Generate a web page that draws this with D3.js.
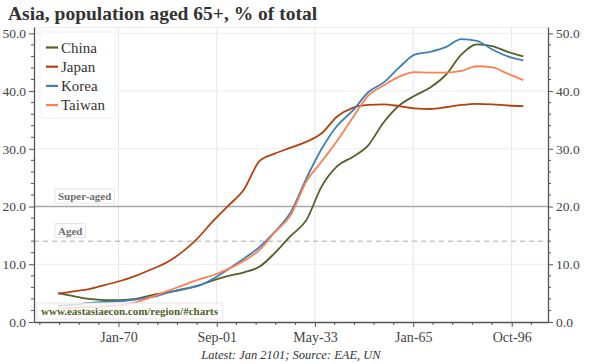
<!DOCTYPE html>
<html><head><meta charset="utf-8">
<script src="https://cdn.jsdelivr.net/npm/d3@7"></script>
<style>body{margin:0;background:#fff}svg{display:block}</style>
</head><body><svg id="c" width="600" height="364"></svg>
<script>
const years = [1950,1955,1960,1965,1970,1975,1980,1985,1990,1995,2000,2005,2010,2015,2020,2025,2030,2035,2040,2045,2050,2055,2060,2065,2070,2075,2080,2085,2090,2095,2100];
const china  = [5.0,4.5,4.0,3.8,3.8,4.0,4.6,5.1,5.6,6.3,7.2,8.0,8.6,9.6,12.0,14.9,17.6,23.5,27.0,28.6,30.6,34.6,37.5,39.2,40.6,42.8,46.3,48.1,47.8,46.8,46.0];
const japan  = [4.9,5.3,5.7,6.4,7.1,8.0,9.1,10.3,12.1,14.5,17.5,20.2,23.0,27.9,29.2,30.2,31.2,32.7,35.6,37.1,37.6,37.7,37.4,37.0,36.9,37.2,37.6,37.8,37.7,37.5,37.4];
const korea  = [2.8,3.0,3.3,3.5,3.6,3.9,4.3,5.0,5.7,6.2,7.5,9.2,11.0,13.0,15.7,19.0,24.8,30.0,34.0,36.6,39.8,41.5,44.1,46.3,46.8,47.6,49.0,48.7,47.2,46.0,45.3];
const taiwan = [2.3,2.5,2.6,2.7,2.9,3.4,4.3,5.3,6.3,7.3,8.1,9.2,10.6,12.5,15.6,18.5,24.3,27.8,31.4,35.4,39.2,41.0,42.5,43.3,43.2,43.2,43.5,44.3,44.1,43.0,41.9];
const seriesNames = ["China","Japan","Korea","Taiwan"];
const seriesValues = [china, japan, korea, taiwan];
const seriesColors = ["#4F6228","#B5400F","#3F7FB9","#FF7F4F"];
const xTickLabels = ["Jan-70","Sep-01","May-33","Jan-65","Oct-96"];
const xTickDates = ["1970-01-01","2001-09-01","2033-05-01","2065-01-01","2096-10-01"];
const yTickValues = [0,10,20,30,40,50];
const thresholdLabels = ["Super-aged","Aged"];
const thresholdValues = [20,14];
const title = "Asia, population aged 65+, % of total";
const footer = "Latest: Jan 2101; Source: EAE, UN";
const watermark = "www.eastasiaecon.com/region/#charts";

const svg = d3.select("#c");
const L = 34, R = 548, T = 27, B = 322;
const serif = "'Liberation Serif', 'Times New Roman', serif";
const x = d3.scaleTime().domain([new Date(1942, 9, 5), new Date(2108, 5, 15)]).range([L, R]);
const y = d3.scaleLinear().domain([0, 51.1]).range([B, T]);
const parse = d3.timeParse("%Y-%m-%d");
const majorDates = xTickDates.map(parse);
const dataDates = years.map(yr => new Date(yr, 6, 1));

// gridlines
const g = svg.append("g");
g.selectAll(".hg").data(yTickValues.filter(v => v > 0 && v !== 20)).join("line")
  .attr("x1", L).attr("x2", R).attr("y1", d => y(d)).attr("y2", d => y(d))
  .attr("stroke", "#ececec").attr("stroke-width", 1);
g.append("line").attr("x1", L).attr("x2", R).attr("y1", T + 0.5).attr("y2", T + 0.5)
  .attr("stroke", "#ececec");
g.selectAll(".vg").data(majorDates).join("line")
  .attr("x1", d => x(d)).attr("x2", d => x(d)).attr("y1", T).attr("y2", B)
  .attr("stroke", "#e6e6e6").attr("stroke-width", 1);

// thresholds
g.append("line").attr("x1", L).attr("x2", R).attr("y1", y(thresholdValues[0])).attr("y2", y(thresholdValues[0]))
  .attr("stroke", "#a8a8a8").attr("stroke-width", 1.5);
g.append("line").attr("x1", L).attr("x2", R).attr("y1", y(thresholdValues[1])).attr("y2", y(thresholdValues[1]))
  .attr("stroke", "#aaaaaa").attr("stroke-width", 1).attr("stroke-dasharray", "5,4");
thresholdLabels.forEach((lab, i) => {
  const t = g.append("text").text(lab).attr("x", 58).attr("y", y(thresholdValues[i]) - 6.5)
    .attr("font-family", serif).attr("font-size", 11).attr("font-weight", "bold").attr("fill", "#6e6e6e");
  const bb = t.node().getBBox();
  g.insert("rect", "text").attr("x", bb.x - 3).attr("y", bb.y - 1).attr("width", bb.width + 6).attr("height", bb.height + 2)
    .attr("fill", "#fff").attr("stroke", "#e4e4e4");
});

// lines
const line = d3.line().x((d, i) => x(dataDates[i])).y(d => y(d)).curve(d3.curveMonotoneX);
seriesValues.forEach((vals, i) => {
  svg.append("path").datum(vals).attr("d", line).attr("fill", "none")
    .attr("stroke", seriesColors[i]).attr("stroke-width", 1.8).attr("stroke-linejoin", "round");
});

// axes
const axisColor = "#555";
const yFmt = d3.format(".1f");
const styleAxis = sel => {
  sel.select(".domain").attr("stroke", axisColor).attr("stroke-width", 1.3);
  sel.selectAll(".tick line").attr("stroke", axisColor);
  sel.selectAll(".tick text").attr("font-family", serif).attr("font-size", 13.5).attr("fill", "#444");
};
const minorY = d3.range(0, 51, 2).filter(v => v % 10 !== 0);
const yl = svg.append("g").attr("transform", `translate(${L},0)`)
  .call(d3.axisLeft(y).tickValues(yTickValues).tickFormat(yFmt).tickSize(5).tickSizeOuter(0).tickPadding(3));
styleAxis(yl);
yl.selectAll(".mt").data(minorY).join("line").attr("x1", 0).attr("x2", -3).attr("y1", d => y(d)).attr("y2", d => y(d)).attr("stroke", axisColor);
const yr = svg.append("g").attr("transform", `translate(${R},0)`)
  .call(d3.axisRight(y).tickValues(yTickValues).tickFormat(yFmt).tickSize(5).tickSizeOuter(0).tickPadding(3));
styleAxis(yr);
yr.selectAll(".mt").data(minorY).join("line").attr("x1", 0).attr("x2", 3).attr("y1", d => y(d)).attr("y2", d => y(d)).attr("stroke", axisColor);

const xa = svg.append("g").attr("transform", `translate(0,${B})`)
  .call(d3.axisBottom(x).tickValues(majorDates).tickFormat((d, i) => xTickLabels[i]).tickSize(5).tickSizeOuter(0).tickPadding(5));
styleAxis(xa);
xa.selectAll(".tick text").attr("font-size", 14);
// minor x ticks: five divisions between majors
const mp = majorDates.map(d => x(d));
const step = (mp[mp.length - 1] - mp[0]) / ((mp.length - 1) * 5);
const minorX = [];
for (let p = mp[0] - step; p > L + 2; p -= step) minorX.push(p);
for (let p = mp[0] + step; p < R - 2; p += step) if (!mp.some(m => Math.abs(m - p) < 1)) minorX.push(p);
xa.selectAll(".mt").data(minorX).join("line").attr("x1", d => d).attr("x2", d => d).attr("y1", 0).attr("y2", 3).attr("stroke", axisColor);

// legend
const lg = svg.append("g");
lg.append("rect").attr("x", 40).attr("y", 32).attr("width", 75).attr("height", 86).attr("fill", "#fff").attr("stroke", "#f0f0f0");
seriesNames.forEach((n, i) => {
  const yy = 47.5 + i * 19.2;
  lg.append("line").attr("x1", 46).attr("x2", 58).attr("y1", yy).attr("y2", yy).attr("stroke", seriesColors[i]).attr("stroke-width", 2.2);
  lg.append("text").text(n).attr("x", 61).attr("y", yy + 5).attr("font-family", serif).attr("font-size", 15).attr("fill", "#333");
});

// watermark
const wm = svg.append("g");
const wt = wm.append("text").text(watermark).attr("x", 41).attr("y", 314.5)
  .attr("font-family", serif).attr("font-size", 11).attr("font-weight", "bold").attr("fill", "#4F6228");
const wb = wt.node().getBBox();
wm.insert("rect", "text").attr("x", 37).attr("y", 303).attr("width", wb.width + 8).attr("height", 16)
  .attr("fill", "#fff").attr("fill-opacity", 0.75).attr("stroke", "#e6e6e6");

// title, footer
svg.append("text").text(title).attr("x", 8).attr("y", 20).attr("font-family", serif).attr("font-size", 19.5)
  .attr("font-weight", "bold").attr("fill", "#333");
svg.append("text").text(footer).attr("x", (L + R) / 2).attr("y", 359).attr("text-anchor", "middle")
  .attr("font-family", serif).attr("font-size", 12.5).attr("font-style", "italic").attr("fill", "#333");
</script></body></html>
